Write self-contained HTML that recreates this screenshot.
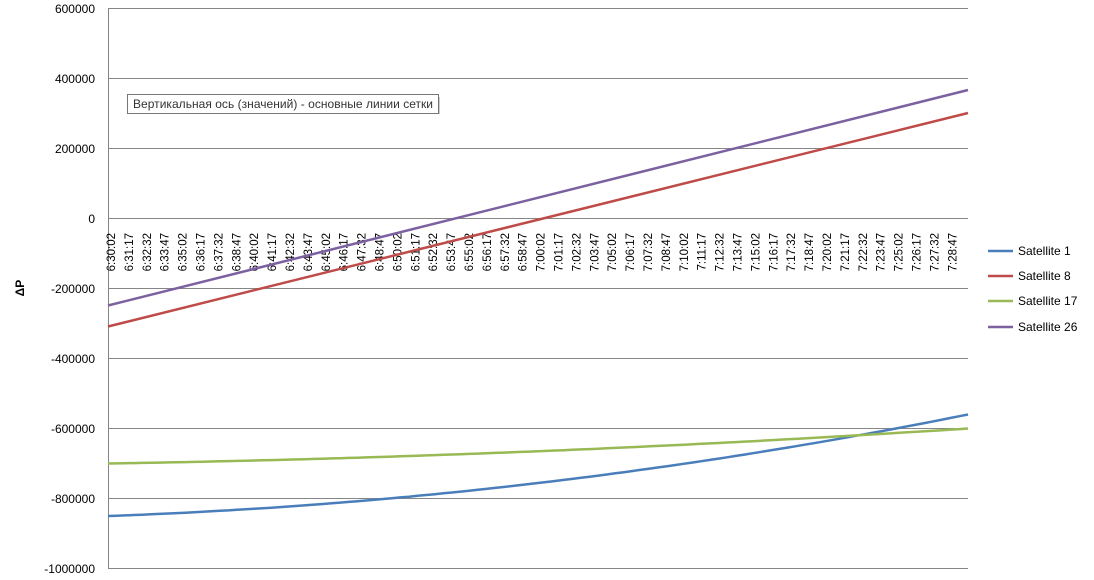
<!DOCTYPE html>
<html><head><meta charset="utf-8"><style>
body{margin:0;background:#fff;}
svg{display:block;font-family:"Liberation Sans",sans-serif;}
</style></head><body>
<svg width="1094" height="580" xmlns="http://www.w3.org/2000/svg">
<rect width="1094" height="580" fill="#fff"/>
<g stroke="#868686" stroke-width="1">
<line x1="108" y1="8.5" x2="968" y2="8.5"/>
<line x1="108" y1="78.5" x2="968" y2="78.5"/>
<line x1="108" y1="148.5" x2="968" y2="148.5"/>
<line x1="108" y1="218.5" x2="968" y2="218.5"/>
<line x1="108" y1="288.5" x2="968" y2="288.5"/>
<line x1="108" y1="358.5" x2="968" y2="358.5"/>
<line x1="108" y1="428.5" x2="968" y2="428.5"/>
<line x1="108" y1="498.5" x2="968" y2="498.5"/>
<line x1="108" y1="568.5" x2="968" y2="568.5"/>
<line x1="108.5" y1="8" x2="108.5" y2="568"/>
</g>
<g font-size="12" text-anchor="end" fill="#000">
<text x="95" y="13">600000</text>
<text x="95" y="83">400000</text>
<text x="95" y="153">200000</text>
<text x="95" y="223">0</text>
<text x="95" y="293">-200000</text>
<text x="95" y="363">-400000</text>
<text x="95" y="433">-600000</text>
<text x="95" y="503">-800000</text>
<text x="95" y="573">-1000000</text>
</g>
<text transform="translate(24,288) rotate(-90)" font-size="12" font-weight="bold" text-anchor="middle">ΔP</text>
<g id="xl" font-size="11.5" text-anchor="end" fill="#000"></g>
<path id="s1" fill="none" stroke="#4A7EBB" stroke-width="2.5"/>
<path id="s17" fill="none" stroke="#98B954" stroke-width="2.5"/>
<line x1="108" y1="326.5" x2="968" y2="113" stroke="#BE4B48" stroke-width="2.5"/>
<line x1="108" y1="305.5" x2="968" y2="90" stroke="#7D60A0" stroke-width="2.5"/>
<g stroke-width="2.5">
<line x1="988" y1="251" x2="1013" y2="251" stroke="#4A7EBB"/>
<line x1="988" y1="276" x2="1013" y2="276" stroke="#BE4B48"/>
<line x1="988" y1="301" x2="1013" y2="301" stroke="#98B954"/>
<line x1="988" y1="327" x2="1013" y2="327" stroke="#7D60A0"/>
</g>
<g font-size="12" fill="#000">
<text x="1018" y="255">Satellite 1</text>
<text x="1018" y="280">Satellite 8</text>
<text x="1018" y="305">Satellite 17</text>
<text x="1018" y="331">Satellite 26</text>
</g>
<rect x="130" y="97" width="310" height="17" fill="#9a9a9a" opacity="0.5"/>
<rect x="127.5" y="94.5" width="311" height="19" fill="#fff" stroke="#767676"/>
<text x="133" y="108" font-size="12" fill="#333" textLength="300">Вертикальная ось (значений)  - основные линии сетки</text>
</svg>
<script>
var ns="http://www.w3.org/2000/svg";
var g=document.getElementById("xl");
var t0=6*3600+30*60+2;
for(var i=0;i<48;i++){
 var s=t0+i*75,h=Math.floor(s/3600),m=Math.floor(s%3600/60),c=s%60;
 var lbl=h+":"+(m<10?"0":"")+m+":"+(c<10?"0":"")+c;
 var x=111+i*17.9+4;
 var e=document.createElementNS(ns,"text");
 e.setAttribute("transform","translate("+x+",233) rotate(-90)");
 e.textContent=lbl;g.appendChild(e);
}
function Y(v){return 218.5-v*70/200000;}
var d1="",d2="";
for(var k=0;k<=100;k++){
 var t=k/100,x=108+860*t;
 var v1=-850000+86800*t+203200*t*t;
 var v2=-700000+40000*t+60000*t*t;
 d1+=(k?"L":"M")+x.toFixed(1)+" "+Y(v1).toFixed(1);
 d2+=(k?"L":"M")+x.toFixed(1)+" "+Y(v2).toFixed(1);
}
document.getElementById("s1").setAttribute("d",d1);
document.getElementById("s17").setAttribute("d",d2);
</script>
</body></html>
